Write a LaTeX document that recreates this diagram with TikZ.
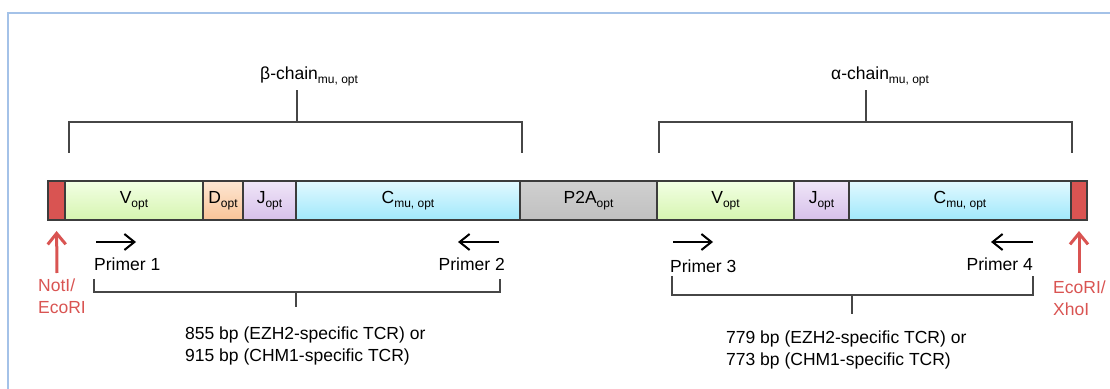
\documentclass[tikz,border=0pt]{standalone}
\usepackage{fontspec}
\setmainfont{Liberation Sans}
\usepackage{tikz}
\usetikzlibrary{arrows.meta, positioning}
\usepackage{xcolor}

\definecolor{framecol}{RGB}{164,194,232}
\definecolor{sitered}{RGB}{217,84,82}
\definecolor{edgegray}{RGB}{60,60,60}
\definecolor{brkgray}{RGB}{70,70,70}
\definecolor{vtop}{RGB}{242,255,228}
\definecolor{vbot}{RGB}{214,245,176}
\definecolor{dtop}{RGB}{253,230,210}
\definecolor{dbot}{RGB}{249,196,152}
\definecolor{jtop}{RGB}{240,230,248}
\definecolor{jbot}{RGB}{214,192,234}
\definecolor{ctop}{RGB}{226,249,255}
\definecolor{cbot}{RGB}{160,232,251}
\definecolor{ptop}{RGB}{208,208,208}
\definecolor{pbot}{RGB}{192,192,192}

\newcommand{\lo}[1]{\raisebox{-4pt}{\fontsize{12}{12}\selectfont #1}}

\begin{document}
\begin{tikzpicture}[x=1pt,y=1pt,font=\fontsize{17.5}{22}\selectfont]
    \tikzstyle{seg}=[shape=rectangle,draw=edgegray,line width=1.3pt,minimum height=39pt,inner sep=0pt,outer sep=0pt]
    \tikzstyle{brk}=[draw=brkgray,line width=1.3pt]
    \tikzstyle{primer}=[draw=black,line width=2pt,-{Straight Barb[length=10pt,width=16pt]}]
    \tikzstyle{site}=[draw=sitered,line width=3pt,-{Straight Barb[length=11pt,width=18pt]}]
    \tikzstyle{sitelab}=[text=sitered,align=left,inner sep=0pt,anchor=west]
    \tikzstyle{lab}=[inner sep=0pt]

    \useasboundingbox (0,0) rectangle (1110,388);
    \draw[framecol,line width=1.5pt] (8,-12) -- (8,375) -- (1120,375);

    \node[seg, fill=sitered, minimum width=17pt, anchor=north west] (R1) at (48,207) {};
    \node[seg, top color=vtop, bottom color=vbot, minimum width=138pt, right=0pt of R1] (V1) {V\lo{opt}};
    \node[seg, top color=dtop, bottom color=dbot, minimum width=40pt, right=0pt of V1] (D1) {D\lo{opt}};
    \node[seg, top color=jtop, bottom color=jbot, minimum width=53pt, right=0pt of D1] (J1) {J\lo{opt}};
    \node[seg, top color=ctop, bottom color=cbot, minimum width=224pt, right=0pt of J1] (C1) {C\lo{mu, opt}};
    \node[seg, top color=ptop, bottom color=pbot, minimum width=137pt, right=0pt of C1] (P2A) {P2A\lo{opt}};
    \node[seg, top color=vtop, bottom color=vbot, minimum width=137pt, right=0pt of P2A] (V2) {V\lo{opt}};
    \node[seg, top color=jtop, bottom color=jbot, minimum width=55pt, right=0pt of V2] (J2) {J\lo{opt}};
    \node[seg, top color=ctop, bottom color=cbot, minimum width=222pt, right=0pt of J2] (C2) {C\lo{mu, opt}};
    \node[seg, fill=sitered, minimum width=16pt, right=0pt of C2] (R2) {};

    \node[lab, anchor=base west] (beta) at (260,308) {β-chain\lo{mu, opt}};
    \node[lab, anchor=base west] (alpha) at (831,308) {α-chain\lo{mu, opt}};

    \coordinate (bL) at (69,235);
    \coordinate (bR) at (522,235);
    \coordinate (bM) at (297,266);
    \coordinate (bT) at (297,298);
    \coordinate (aL) at (659,235);
    \coordinate (aR) at (1072,235);
    \coordinate (aM) at (866,266);
    \coordinate (aT) at (866,298);
    \draw[brk] (bL) |- (bR |- bM) -- (bR);
    \draw[brk] (bM) -- (bT);
    \draw[brk] (aL) |- (aR |- aM) -- (aR);
    \draw[brk] (aM) -- (aT);

    \coordinate (p1a) at (96,146);
    \coordinate (p1b) at (136,146);
    \coordinate (p2a) at (499,146);
    \coordinate (p2b) at (458,146);
    \coordinate (p3a) at (673,146);
    \coordinate (p3b) at (713,146);
    \coordinate (p4a) at (1033,146);
    \coordinate (p4b) at (991,146);
    \draw[primer] (p1a) -- (p1b);
    \draw[primer] (p2a) -- (p2b);
    \draw[primer] (p3a) -- (p3b);
    \draw[primer] (p4a) -- (p4b);

    \node[lab, anchor=west] (pr1) at (94,124) {Primer 1};
    \node[lab, anchor=east] (pr2) at (505,124) {Primer 2};
    \node[lab, anchor=west] (pr3) at (670,122) {Primer 3};
    \node[lab, anchor=east] (pr4) at (1033,124) {Primer 4};

    \coordinate (s1) at (57,115);
    \coordinate (s2) at (1079,115);
    \draw[site, shorten >=11pt] (s1) -- (R1.south);
    \draw[site, shorten >=11pt] (s2) -- (R2.south);
    \node[sitelab] (site1) at (38,92) {NotI/\\EcoRI};
    \node[sitelab] (site2) at (1053,90) {EcoRI/\\XhoI};

    \coordinate (cL) at (94,109);
    \coordinate (cR) at (500,109);
    \coordinate (cM) at (296,96);
    \coordinate (cB) at (296,81);
    \coordinate (dL) at (672,112);
    \coordinate (dR) at (1033,112);
    \coordinate (dM) at (852,93);
    \coordinate (dB) at (852,74);
    \draw[brk] (cL) |- (cR |- cM) -- (cR);
    \draw[brk] (cM) -- (cB);
    \draw[brk] (dL) |- (dR |- dM) -- (dR);
    \draw[brk] (dM) -- (dB);

    \node[lab, anchor=west, align=left] (len1) at (185,42) {855 bp (EZH2-specific TCR) or\\915 bp (CHM1-specific TCR)};
    \node[lab, anchor=west, align=left] (len2) at (726,38) {779 bp (EZH2-specific TCR) or\\773 bp (CHM1-specific TCR)};
\end{tikzpicture}
\end{document}
